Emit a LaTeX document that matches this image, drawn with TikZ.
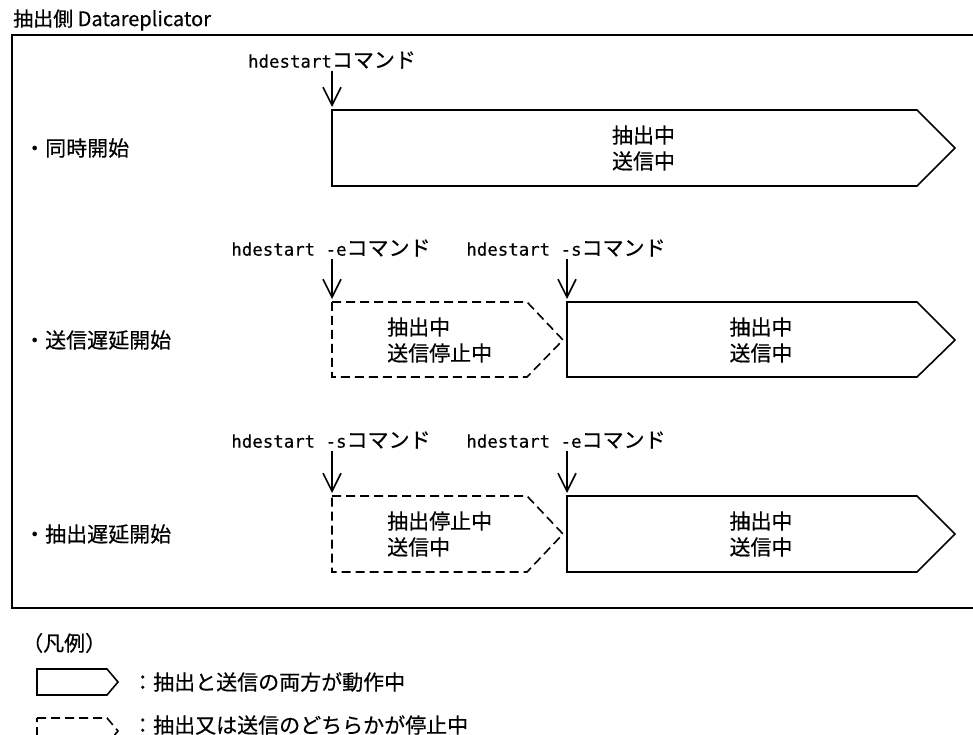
\documentclass[tikz,border=0pt]{standalone}
\usepackage{fontspec}
\setmainfont{Noto Sans CJK JP}[FakeBold=0.35]
\newfontfamily\monofam{DejaVu Sans Mono}[FakeBold=0.2]
\usetikzlibrary{arrows.meta}
\newcommand\hdecmd[1]{{\monofam\fontsize{17.4}{20}\selectfont #1}}
\tikzset{
  lbl/.style={inner sep=0pt, font=\fontsize{21}{26}\selectfont},
  ttl/.style={inner sep=0pt, font=\fontsize{20}{26}\selectfont},
  arr/.style={line width=1.6pt, shorten <=2pt, shorten >=3pt,
    -{Straight Barb[length=18pt,width=18pt,line width=1.6pt]}},
  solidbox/.style={line width=1.6pt, line join=miter},
  dashbox/.style={line width=1.6pt, dash pattern=on 9pt off 5pt},
  frame/.style={line width=1.4pt}
}
\begin{document}
\begin{tikzpicture}[x=1pt,y=-1pt]
\useasboundingbox (0,0) rectangle (973,735);
\clip (0,0) rectangle (973,735);
\fill[white] (0,0) rectangle (973,735);

% title and frame
\node[ttl, anchor=west] (title) at (13,20) {抽出側 Datareplicator};
\draw[frame] (12,35) rectangle (990,608);

% row 1
\node[lbl, anchor=west] (r1) at (24,148) {・同時開始};
\node[lbl] (c1) at (332,60) {\hdecmd{hdestart}コマンド};
\coordinate (b1) at (332,110);
\draw[solidbox] (b1) -- (917,110) -- (955,148) -- (917,186) -- (332,186) -- cycle;
\node[lbl, align=left] (t1) at (643.5,148) {抽出中\\送信中};
\draw[arr] (c1.south) -- (b1);

% row 2
\node[lbl, anchor=west] (r2) at (24,340) {・送信遅延開始};
\node[lbl] (c2a) at (331,248) {\hdecmd{hdestart -e}コマンド};
\node[lbl] (c2b) at (566,248) {\hdecmd{hdestart -s}コマンド};
\coordinate (b2a) at (332,302);
\coordinate (b2b) at (567,302);
\draw[dashbox] (b2a) -- (527,302) -- (563,340) -- (527,377) -- (332,377) -- cycle;
\draw[solidbox] (b2b) -- (917,302) -- (955,340) -- (917,377) -- (567,377) -- cycle;
\node[lbl, align=left, anchor=west] (t2a) at (387,340) {抽出中\\送信停止中};
\node[lbl, align=left] (t2b) at (761,340) {抽出中\\送信中};
\draw[arr] (c2a.south -| b2a) -- (b2a);
\draw[arr] (c2b.south -| b2b) -- (b2b);

% row 3
\node[lbl, anchor=west] (r3) at (24,534) {・抽出遅延開始};
\node[lbl] (c3a) at (331,440) {\hdecmd{hdestart -s}コマンド};
\node[lbl] (c3b) at (566,440) {\hdecmd{hdestart -e}コマンド};
\coordinate (b3a) at (332,496);
\coordinate (b3b) at (567,496);
\draw[dashbox] (b3a) -- (527,496) -- (563,534) -- (527,572) -- (332,572) -- cycle;
\draw[solidbox] (b3b) -- (917,496) -- (955,534) -- (917,572) -- (567,572) -- cycle;
\node[lbl, align=left, anchor=west] (t3a) at (387,534) {抽出停止中\\送信中};
\node[lbl, align=left] (t3b) at (761,534) {抽出中\\送信中};
\draw[arr] (c3a.south -| b3a) -- (b3a);
\draw[arr] (c3b.south -| b3b) -- (b3b);

% legend
\node[lbl, anchor=west] (leg) at (22,643) {（凡例）};
\draw[solidbox] (37,669) -- (107,669) -- (118,682) -- (107,695) -- (37,695) -- cycle;
\node[lbl, anchor=west] (l1) at (132,682) {：抽出と送信の両方が動作中};
\draw[dashbox] (37,718) -- (107,718) -- (118,731) -- (107,744) -- (37,744) -- cycle;
\node[lbl, anchor=west] (l2) at (132,725) {：抽出又は送信のどちらかが停止中};
\end{tikzpicture}
\end{document}
